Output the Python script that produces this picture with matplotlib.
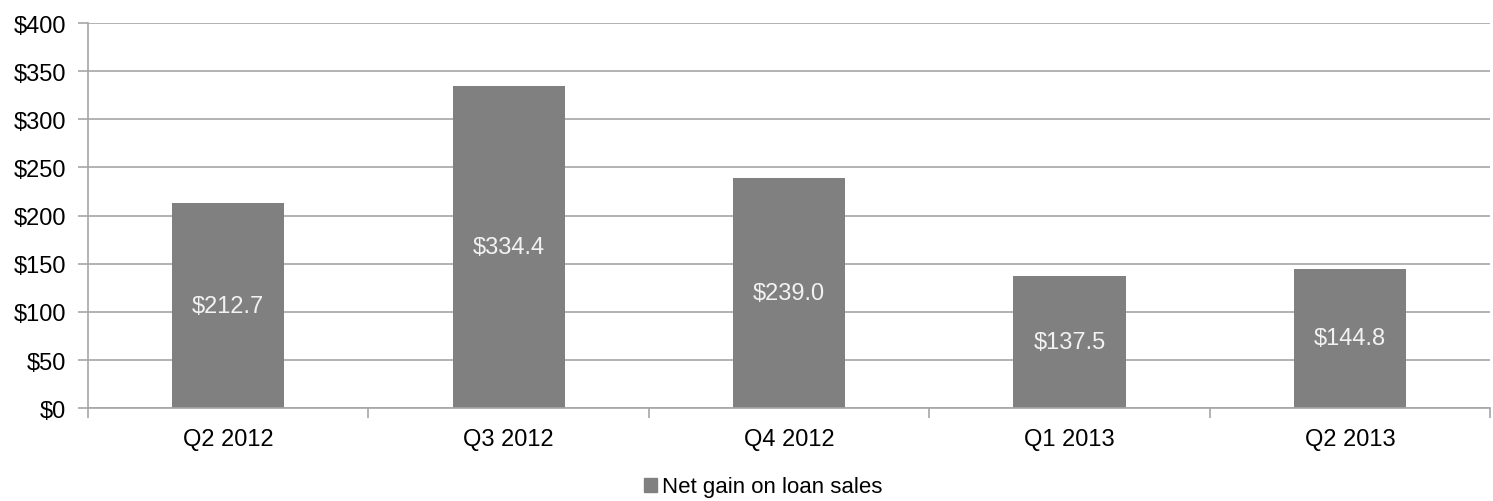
import numpy as np
import matplotlib
matplotlib.use('Agg')
from matplotlib import pyplot as plt
from matplotlib.patches import Patch

quarters = ['Q2 2012', 'Q3 2012', 'Q4 2012', 'Q1 2013', 'Q2 2013']
gain = [212.7, 334.4, 239.0, 137.5, 144.8]
series_name = 'Net gain on loan sales'

plt.rcParams['font.family'] = ['Liberation Sans', 'DejaVu Sans']

def main():
    fig = plt.figure(figsize=(14.93, 5.02), dpi=100)
    ax = fig.add_axes([0.059, 0.185, 0.939, 0.767])

    x = np.arange(len(quarters))
    bar_color = '#808080'
    ax.bar(x, gain, width=0.4, color=bar_color, zorder=3)

    # value labels in the middle of each bar
    for xi, v in zip(x, gain):
        ax.text(xi, v / 2, '${:.1f}'.format(v), ha='center', va='center',
                color='#f2f2f2', fontsize=17, zorder=4)

    ax.set_xlim(-0.5, len(quarters) - 0.5)
    ax.set_ylim(0, 400)
    ax.set_yticks(np.arange(0, 401, 50))
    ax.set_yticklabels(['${}'.format(t) for t in range(0, 401, 50)])
    ax.yaxis.grid(True, color='#a6a6a6', linewidth=1.2, zorder=0)

    ax.set_xticks(x)
    ax.set_xticklabels(quarters)
    ax.set_xticks(np.arange(-0.5, len(quarters)), minor=True)
    ax.tick_params(axis='x', which='major', length=0, pad=14, labelsize=17)
    ax.tick_params(axis='x', which='minor', length=7, color='#a6a6a6', width=1.2)
    ax.tick_params(axis='y', length=7, color='#a6a6a6', width=1.2, labelsize=17, pad=9)

    for side in ['top', 'right']:
        ax.spines[side].set_visible(False)
    for side in ['left', 'bottom']:
        ax.spines[side].set_color('#a6a6a6')
        ax.spines[side].set_linewidth(1.2)
    ax.spines['bottom'].set_zorder(5)

    fig.legend(handles=[Patch(color=bar_color, label=series_name)],
               loc='center', bbox_to_anchor=(0.511, 0.028), frameon=False,
               fontsize=16, handlelength=0.6, handleheight=0.6, handletextpad=0.2)

    fig.savefig('out.png', dpi=100)

if __name__ == '__main__':
    main()
